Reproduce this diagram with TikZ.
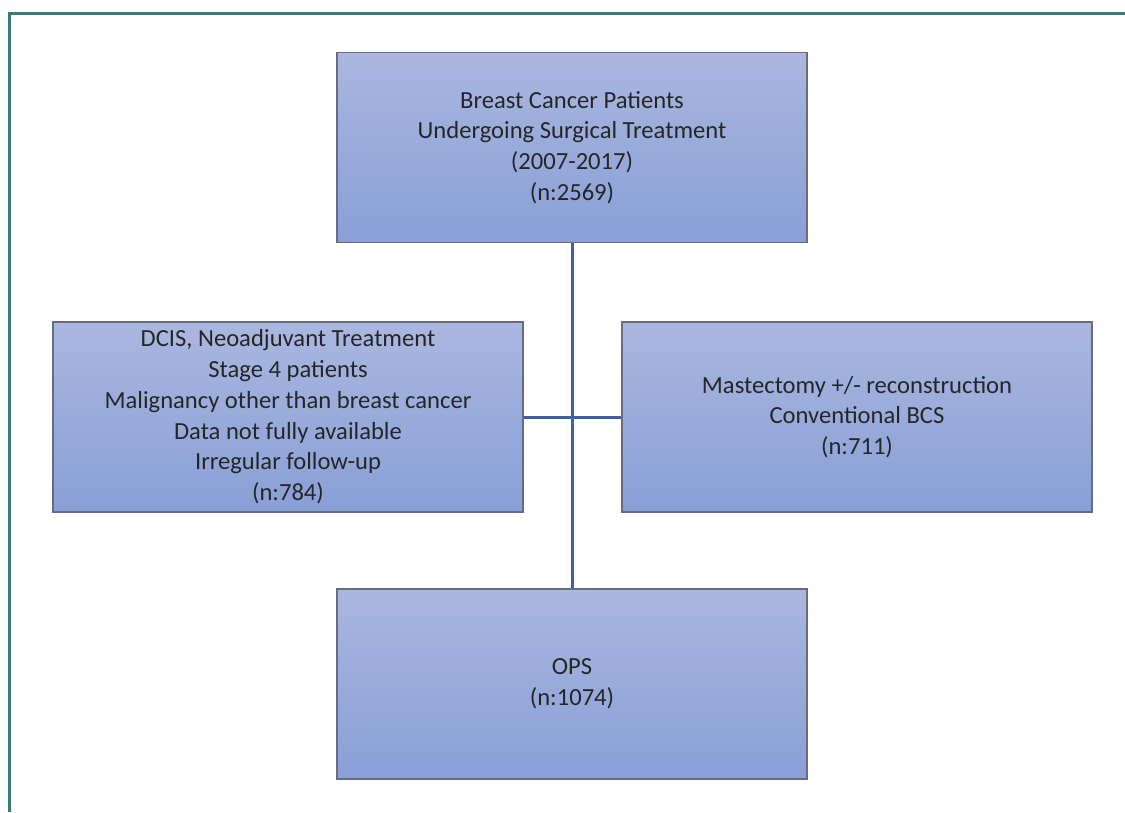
\documentclass[tikz,border=0pt]{standalone}
\usepackage{fontspec}
\setmainfont{Carlito}
\definecolor{boxtop}{RGB}{170,183,224}
\definecolor{boxbot}{RGB}{136,159,214}
\definecolor{boxrim}{RGB}{105,108,122}
\definecolor{linkblue}{RGB}{62,96,168}
\definecolor{frameteal}{RGB}{58,122,120}
\begin{document}
\begin{tikzpicture}[x=0.02cm,y=-0.02cm,
  stage/.style={draw=boxrim,line width=0.9pt,top color=boxtop,bottom color=boxbot,
    minimum width=9.4cm,minimum height=3.8cm,align=center,inner sep=0pt,
    text=black!85,font=\fontsize{14}{17.5}\selectfont},
  link/.style={draw=linkblue,line width=1.7pt}]
  \useasboundingbox (0,0) rectangle (1125,812);
  \draw[frameteal,line width=1.2pt] (9.5,812) -- (9.5,13.5) -- (1125,13.5);

  \node (pop) [stage] at (572,147.5)
    {Breast Cancer Patients\\Undergoing Surgical Treatment\\(2007-2017)\\(n:2569)};
  \node (excl) [stage] at (288,417)
    {DCIS, Neoadjuvant Treatment\\Stage 4 patients\\Malignancy other than breast cancer\\
     Data not fully available\\Irregular follow-up\\(n:784)};
  \node (conv) [stage] at (857,417)
    {Mastectomy +/- reconstruction\\Conventional BCS\\(n:711)};
  \node (ops) [stage] at (572,684) {OPS\\(n:1074)};

  \draw[link] (pop) -- (ops);
  \draw[link] (excl) -- (conv);
\end{tikzpicture}
\end{document}
